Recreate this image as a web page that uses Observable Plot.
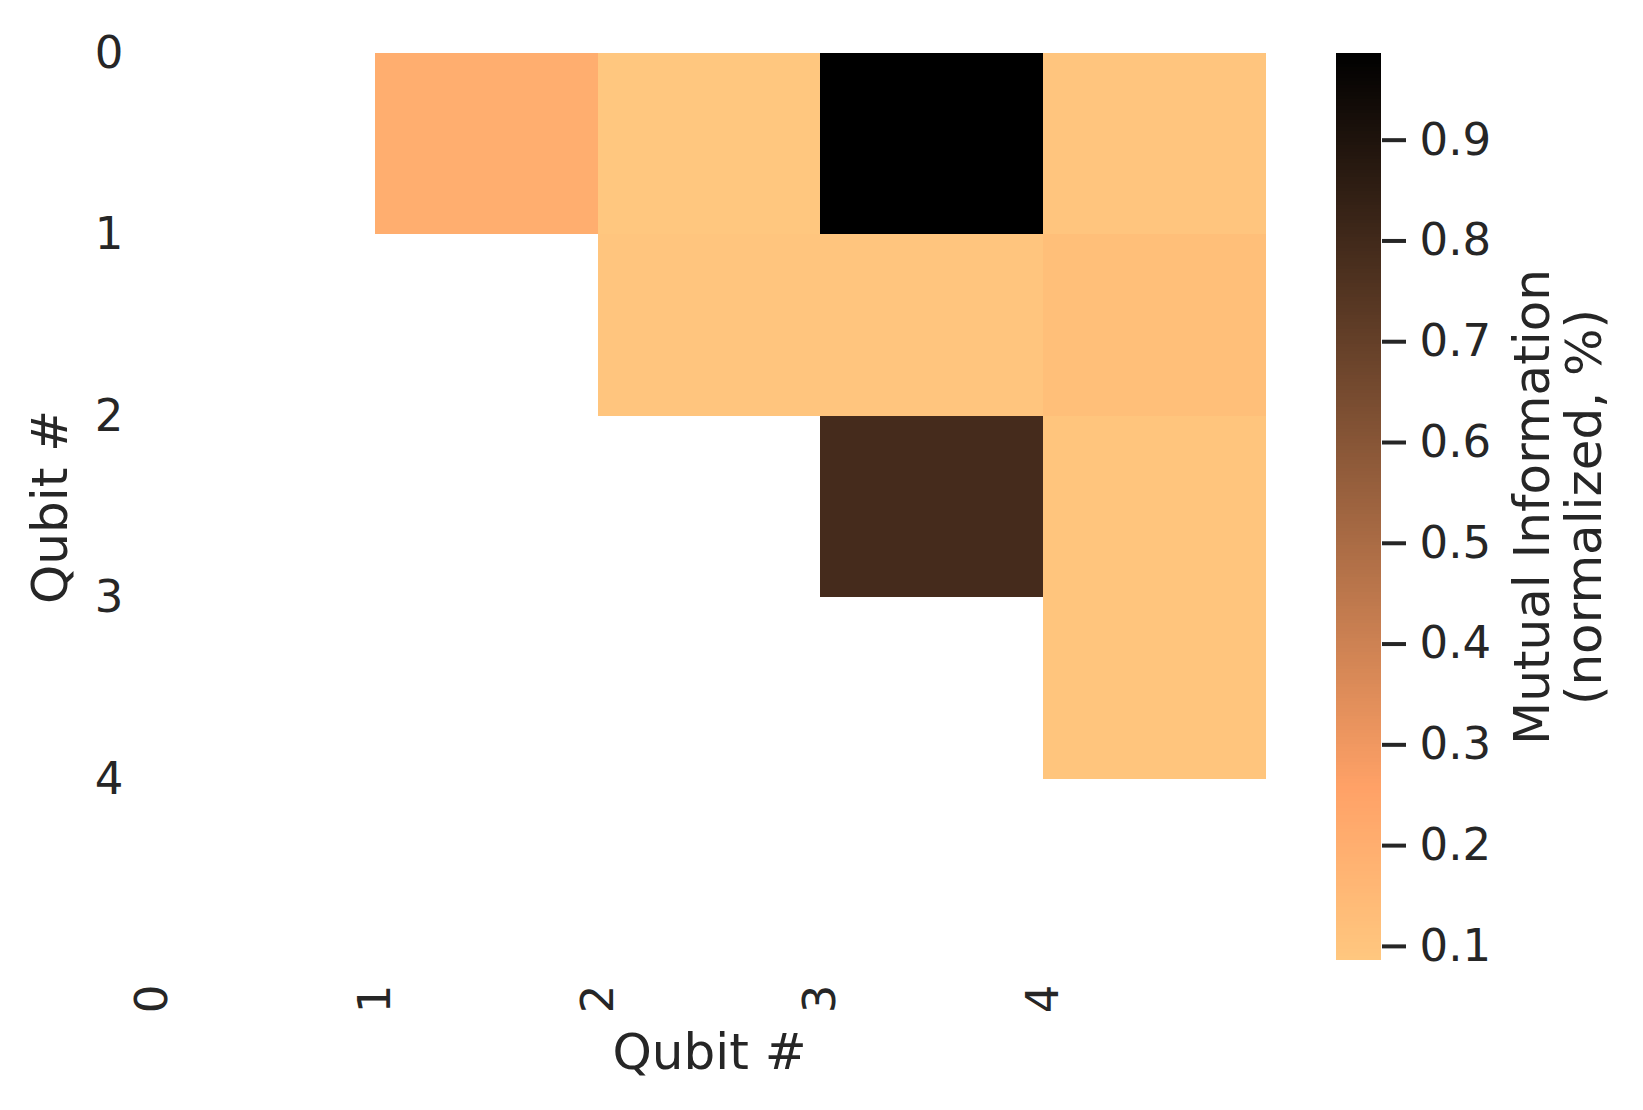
<!DOCTYPE html>
<html>
<head>
<meta charset="utf-8">
<script src="https://cdn.jsdelivr.net/npm/d3@7"></script>
<script src="https://cdn.jsdelivr.net/npm/@observablehq/plot@0.6"></script>
<style>
  html, body { margin: 0; padding: 0; background: #fff; }
  #wrap { position: relative; width: 1643px; height: 1110px; background: #fff; font-family: "DejaVu Sans", sans-serif; }
  #main { position: absolute; left: 0; top: 0; }
  #cbar { position: absolute; left: 1300px; top: 0; }
</style>
</head>
<body>
<div id="wrap"><div id="main"></div><div id="cbar"></div></div>
<script>
// ---- data ----
const qubitTicks = [0, 1, 2, 3, 4];
const rowQubit = [0, 0, 0, 0, 1, 1, 1, 2, 2, 3];
const colQubit = [1, 2, 3, 4, 2, 3, 4, 3, 4, 4];
const mutualInfo = [0.20, 0.086, 0.986, 0.095, 0.095, 0.095, 0.125, 0.79, 0.098, 0.098];
const colorbarTicks = [0.1, 0.2, 0.3, 0.4, 0.5, 0.6, 0.7, 0.8, 0.9];
const axisLabel = "Qubit #";
const colorbarLabel = "Mutual Information\n(normalized, %)";

const cells = mutualInfo.map((v, i) => ({row: rowQubit[i], col: colQubit[i], v}));
const extent = d3.extent(mutualInfo);

// matplotlib "copper" reversed
function copperR(t) {
  const x = 1 - Math.max(0, Math.min(1, t));
  const r = Math.min(1, x / 0.809524);
  const g = 0.7812 * x;
  const b = 0.4975 * x;
  return d3.rgb(r * 255, g * 255, b * 255).formatHex();
}

const colorScale = {type: "linear", domain: extent, interpolate: copperR};
const textColor = "#262626";
const font = "DejaVu Sans";
const tickFont = 45;
const labelFont = 50;

const main = Plot.plot({
  width: 1300,
  height: 1110,
  marginLeft: 152,
  marginRight: 34,
  marginTop: 53,
  marginBottom: 150,
  style: {fontFamily: font, color: textColor, background: "#fff"},
  x: {domain: [0, 5], axis: null},
  y: {domain: [0, 5], reverse: true, axis: null},
  color: colorScale,
  marks: [
    Plot.rect(cells, {
      x1: "col", x2: d => d.col + 1,
      y1: "row", y2: d => d.row + 1,
      fill: "v", shapeRendering: "crispEdges"
    }),
    Plot.axisX({ticks: qubitTicks, tickSize: 0, tickPadding: 24, tickRotate: -90, fontSize: tickFont, fill: textColor, tickFormat: d3.format("d"), label: null}),
    Plot.axisY({ticks: qubitTicks, tickSize: 0, tickPadding: 29, fontSize: tickFont, fill: textColor, tickFormat: d3.format("d"), label: null}),
    Plot.text([axisLabel], {frameAnchor: "bottom", dy: 92, fontSize: labelFont, fill: textColor, lineAnchor: "middle", textAnchor: "middle"}),
    Plot.text([axisLabel], {frameAnchor: "left", dx: -102, rotate: -90, fontSize: labelFont, fill: textColor, lineAnchor: "middle", textAnchor: "middle"})
  ]
});
document.getElementById("main").appendChild(main);

// colorbar
const nSlices = 256;
const slices = d3.range(nSlices).map(i => ({
  y1: extent[0] + (extent[1] - extent[0]) * i / nSlices,
  y2: extent[0] + (extent[1] - extent[0]) * (i + 1) / nSlices
}));

const cbar = Plot.plot({
  width: 343,
  height: 1110,
  marginLeft: 36,
  marginRight: 262,
  marginTop: 53,
  marginBottom: 150,
  style: {fontFamily: font, color: textColor, background: "#fff"},
  y: {domain: extent, axis: null},
  color: colorScale,
  marks: [
    Plot.rect(slices, {y1: "y1", y2: "y2", fill: d => (d.y1 + d.y2) / 2, shapeRendering: "crispEdges"}),
    Plot.axisY({anchor: "right", ticks: colorbarTicks, tickSize: 24, tickPadding: 14, strokeWidth: 4, stroke: textColor, fill: textColor, fontSize: tickFont, tickFormat: d3.format(".1f"), label: null}),
    Plot.text([colorbarLabel], {frameAnchor: "right", dx: 177, rotate: -90, fontSize: labelFont, lineHeight: 1.04, fill: textColor, lineAnchor: "middle", textAnchor: "middle"})
  ]
});
document.getElementById("cbar").appendChild(cbar);
</script>
</body>
</html>
